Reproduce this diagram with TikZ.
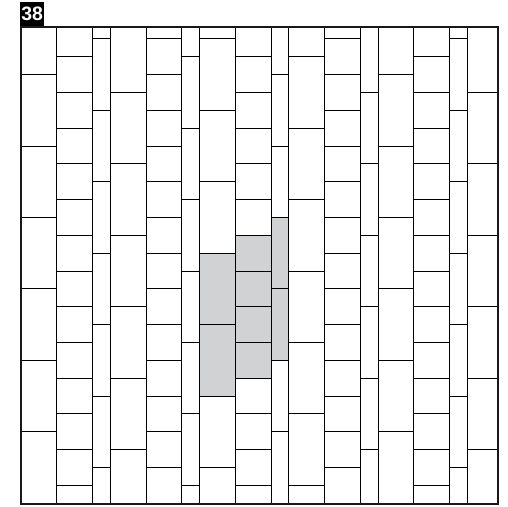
\documentclass[tikz,border=0pt]{standalone}
\usepackage{fontspec}
\setsansfont{Liberation Sans}
\definecolor{cellgray}{RGB}{209,210,212}

\begin{document}
\begin{tikzpicture}[x=0.5cm, y=-0.5cm,
    tile/.style={draw, line width=0.8pt},
    marked/.style={fill=cellgray},
    border/.style={draw=black!90, line width=1.8pt},
    tag/.style={fill=black, text=white, font=\sffamily\bfseries\fontsize{15.5}{15.5}\selectfont,
        minimum width=0.675cm, minimum height=0.67cm, inner sep=0pt, anchor=south west}]

    \useasboundingbox (-1.176,-1.176) rectangle (27.27,27.16);

    % shaded block
    \fill [marked] (10,13) rectangle (12,21);
    \fill [marked] (12,12) rectangle (14,20);
    \fill [marked] (14,11) rectangle (15,19);

    % columns: left / width / length / offset
    \begin{scope}
        \clip (0,0.34) rectangle (26.7,27.04);
        \foreach \xa/\w/\p/\o in {0/2/4/3, 2/2/2/0, 4/1/4/1, 5/2/4/0,
                                 7/2/2/1, 9/1/4/2, 10/2/4/1, 12/2/2/0,
                                 14/1/4/3, 15/2/4/2, 17/2/2/1, 19/1/4/0,
                                 20/2/4/3, 22/2/2/0, 24/1/4/1, 25/2/4/0} {
            \foreach \k in {-1,...,13} {
                \path [tile] (\xa,\o+\k*\p) rectangle ++(\w,\p);
            }
        }
    \end{scope}

    \path [border] (0,0.34) rectangle (26.7,27.04);

    \node [tag] (num) at (-0.06,0.28) {38};
\end{tikzpicture}
\end{document}
